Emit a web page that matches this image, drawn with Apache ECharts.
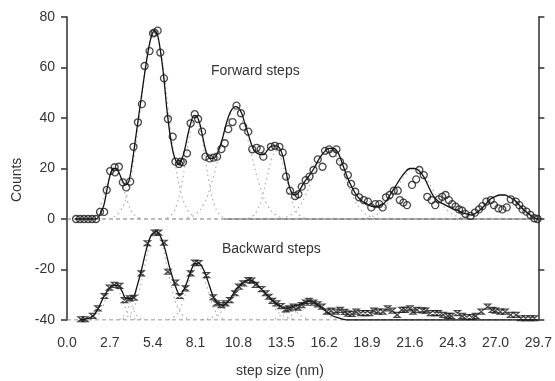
<!DOCTYPE html>
<html><head><meta charset="utf-8">
<script src="https://cdn.jsdelivr.net/npm/echarts@6/dist/echarts.min.js"></script>
<style>html,body{margin:0;padding:0;background:#fff}#c{width:555px;height:381px}</style>
</head><body><div id="c"></div>
<script>
// ---- tick labels ----
const xTicks = [0, 2.7, 5.4, 8.1, 10.8, 13.5, 16.2, 18.9, 21.6, 24.3, 27.0, 29.7];
const yTicks = [-40, -20, 0, 20, 40, 60, 80];

// ---- forward steps: measured counts (circles) ----
const forwardData = [[0.57,0],[0.82,0],[1.07,0],[1.33,0],[1.58,0],[1.83,0],[2.08,2.8],[2.34,2.8],[2.5,11.5],[2.72,19],[3.0,20.5],[3.03,18.5],[3.27,20.7],[3.52,14.5],[3.73,12.5],[3.98,14.8],[4.19,28.6],[4.47,38.3],[4.72,45.5],[4.89,60.6],[5.2,66.5],[5.42,73.5],[5.52,73.8],[5.71,74.6],[5.88,65.9],[6.11,55.7],[6.36,39.6],[6.66,32.6],[6.83,22.7],[7.06,21.8],[7.16,22.7],[7.31,22.5],[7.56,26],[7.79,37.9],[8.05,41.5],[8.26,39.6],[8.51,34.6],[8.72,24.7],[8.98,24],[9.23,24.3],[9.46,24.7],[9.73,27.7],[9.94,30],[10.16,35.6],[10.43,38.4],[10.68,44.9],[10.96,41.9],[11.1,36.6],[11.42,34.6],[11.67,27.6],[11.95,28.2],[12.2,27.6],[12.37,24.7],[12.85,28.6],[13.1,29],[13.38,28.6],[13.59,26.3],[13.8,16.8],[14.05,11.2],[14.37,9.1],[14.58,9.8],[14.79,12.8],[15.04,15.4],[15.28,16.8],[15.53,19.4],[15.8,23.6],[16.1,20.7],[16.26,27],[16.52,27.6],[16.75,26],[16.98,27.6],[17.2,22.7],[17.43,20.7],[17.7,17.4],[17.9,13.9],[18.16,10.8],[18.4,8.6],[18.7,7.5],[18.96,6.9],[19.17,4.6],[19.42,5.9],[19.68,5.9],[19.89,4.6],[20.1,8.6],[20.33,9.5],[20.59,11.2],[20.84,11.2],[20.97,7.5],[21.2,6.5],[21.42,5.5],[21.74,13.5],[22.0,15.7],[22.2,19.4],[22.48,17.4],[22.7,8.8],[22.97,7.5],[23.2,5.5],[23.43,7.8],[23.64,8.8],[23.85,9.5],[24.06,7.5],[24.27,5.9],[24.48,4.9],[24.7,3.8],[24.9,3.3],[25.1,2.0],[25.43,1.2],[25.7,2.5],[25.96,3.8],[26.17,5.1],[26.42,6.9],[26.7,7.5],[26.9,5.5],[27.18,4.2],[27.43,3.8],[27.7,4.6],[27.96,7.8],[28.28,6.9],[28.5,5.5],[28.7,3.8],[28.95,2.9],[29.2,1.6],[29.44,0.3],[29.65,0]];

// ---- forward steps: fitted curve (solid line) ----
const forwardFit = [[0.5,0],[1.8,0],[2.0,1],[2.3,5],[2.5,11],[2.7,17],[2.9,20],[3.1,20],[3.3,18],[3.5,15],[3.7,13.5],[3.9,15],[4.1,22],[4.3,31],[4.5,40],[4.7,49],[4.9,58],[5.1,66],[5.3,72],[5.5,74.5],[5.7,73],[5.9,66],[6.1,56],[6.3,43],[6.5,33],[6.7,26],[6.9,22.5],[7.05,21.5],[7.2,23],[7.4,27],[7.6,33],[7.8,38],[8.0,41],[8.2,40.5],[8.4,37],[8.6,31],[8.8,26],[9.0,24],[9.2,24],[9.4,25],[9.6,28],[9.8,32],[10.0,37],[10.2,41],[10.4,43.5],[10.6,44.5],[10.8,44],[11.0,42],[11.2,38],[11.4,34],[11.6,30],[11.8,27],[12.0,26],[12.2,25.5],[12.4,25.5],[12.6,27],[12.8,28.5],[13.0,29],[13.2,29],[13.4,28],[13.6,25],[13.8,19],[14.0,13],[14.2,10],[14.4,9.5],[14.6,10.5],[14.8,13],[15.0,15],[15.3,17.5],[15.6,20.5],[15.9,24],[16.2,26.5],[16.5,28],[16.8,28],[17.1,26],[17.4,21],[17.7,16],[18.0,12],[18.3,9],[18.6,7],[18.9,6],[19.2,5],[19.5,5],[19.8,5.5],[20.1,7],[20.4,10],[20.7,13],[21.0,16],[21.3,18.5],[21.6,20],[21.9,20],[22.2,19],[22.5,16.5],[22.8,12.5],[23.1,9],[23.4,7],[23.7,6],[24.0,5],[24.3,4],[24.6,3.5],[24.9,2.5],[25.2,2],[25.5,1.5],[25.8,2.5],[26.1,4],[26.4,6],[26.7,8],[27.0,9],[27.3,9.5],[27.6,9.5],[27.9,8.5],[28.2,7.5],[28.5,5.5],[28.8,3.5],[29.1,2],[29.4,0.5],[29.7,0]];

// ---- forward steps: individual peak components (dotted) ----
const fwdPeak1 = [[1.35,0.2],[1.63,0.9],[1.9,2.7],[2.18,6.5],[2.45,12.1],[2.73,17.6],[3.0,20],[3.28,17.6],[3.55,12.1],[3.83,6.5],[4.1,2.7],[4.38,0.9],[4.65,0.2]];
const fwdPeak2 = [[2.95,0.8],[3.375,3.3],[3.8,10],[4.225,24],[4.65,45],[5.075,65.3],[5.5,74],[5.925,65.3],[6.35,45],[6.775,24],[7.2,10],[7.625,3.3],[8.05,0.8]];
const fwdPeak3 = [[6.3,0.44],[6.6,1.8],[6.9,5.4],[7.2,13],[7.5,24.3],[7.8,35.3],[8.1,40],[8.4,35.3],[8.7,24.3],[9.0,13],[9.3,5.4],[9.6,1.8],[9.9,0.44]];
const fwdPeak4 = [[7.6,0.48],[8.1,1.9],[8.6,5.8],[9.1,14],[9.6,26.1],[10.1,37.9],[10.6,43],[11.1,37.9],[11.6,26.1],[12.1,14],[12.6,5.8],[13.1,1.9],[13.6,0.48]];
const fwdPeak5 = [[11.4,0.3],[11.7,1.2],[12.0,3.65],[12.3,8.8],[12.6,16.4],[12.9,23.8],[13.2,27],[13.5,23.8],[13.8,16.4],[14.1,8.8],[14.4,3.65],[14.7,1.2],[15.0,0.3]];
const fwdPeak6 = [[13.5,0.31],[14.0,1.23],[14.5,3.8],[15.0,9.1],[15.5,17],[16.0,24.7],[16.5,28],[17.0,24.7],[17.5,17],[18.0,9.1],[18.5,3.8],[19.0,1.23],[19.5,0.31]];
const fwdPeak7 = [[18.6,0.22],[19.15,0.88],[19.7,2.7],[20.25,6.5],[20.8,12.1],[21.35,17.65],[21.9,20],[22.45,17.65],[23.0,12.1],[23.55,6.5],[24.1,2.7],[24.65,0.88],[25.2,0.22]];
const fwdPeak8 = [[24.4,0.1],[24.9,0.42],[25.4,1.3],[25.9,3.1],[26.4,5.8],[26.9,8.4],[27.4,9.5],[27.9,8.4],[28.4,5.8],[28.9,3.1],[29.4,1.3],[29.7,0.6]];

// ---- backward steps (plotted offset to baseline -40): measured counts (x marks) ----
const backwardData = [[0.88,-39.7],[1.14,-39.7],[1.62,-38.4],[1.94,-35.4],[2.36,-30.5],[2.67,-27.2],[2.99,-26.1],[3.31,-26.5],[3.62,-32.1],[3.94,-31.4],[4.21,-31.2],[4.68,-21.5],[5.06,-9.6],[5.52,-5.4],[5.77,-5.4],[6.11,-9.4],[6.36,-20.9],[6.83,-25.2],[7.1,-30.5],[7.46,-27.5],[7.79,-21.5],[8.05,-17.3],[8.3,-17.5],[8.79,-22.2],[9.21,-31],[9.42,-33.4],[9.73,-34.1],[9.99,-33.4],[10.26,-32.1],[10.58,-29.4],[10.83,-26.8],[11.1,-25.5],[11.42,-24.2],[11.63,-24.4],[11.88,-26.1],[12.26,-27.8],[12.52,-29.4],[12.72,-30.8],[12.94,-32.4],[13.21,-33.4],[13.48,-34.5],[13.78,-35.8],[13.99,-35.4],[14.27,-34.7],[14.54,-35.1],[14.79,-34.1],[15.04,-33.1],[15.25,-32.4],[15.53,-33.1],[15.8,-33.8],[16.06,-34.7],[16.37,-36.7],[16.64,-36.3],[16.94,-36.7],[17.21,-36.0],[17.5,-36.8],[17.7,-37.5],[17.95,-37.6],[18.22,-36.7],[18.52,-37.3],[18.79,-37.3],[19.07,-37.3],[19.34,-36.3],[19.6,-36.7],[19.9,-36.7],[20.2,-35.4],[20.5,-36.3],[20.8,-38],[21.1,-36],[21.3,-36],[21.6,-35.4],[21.8,-36.7],[22.05,-36],[22.4,-36.2],[22.6,-36.3],[22.9,-37.3],[23.2,-37.3],[23.4,-37.3],[23.7,-38],[24.0,-38.4],[24.2,-38.4],[24.6,-37.3],[24.9,-38.4],[25.2,-38.8],[25.5,-38.8],[25.75,-38.4],[26.1,-36.7],[26.5,-34.7],[26.8,-36],[27.0,-36.3],[27.3,-36.7],[27.6,-36.7],[27.95,-38],[28.3,-38],[28.6,-39.3],[28.9,-39.3],[29.2,-39.3],[29.45,-39.3]];

// ---- backward steps: fitted curve ----
const backwardFit = [[0.8,-40],[1.3,-39.5],[1.7,-38],[2.0,-35],[2.3,-31],[2.6,-28],[2.9,-26.3],[3.2,-26.3],[3.5,-29],[3.7,-31.5],[4.0,-31.5],[4.2,-31],[4.4,-27],[4.7,-20],[5.0,-12],[5.3,-6.5],[5.6,-5],[5.9,-7],[6.2,-12.5],[6.5,-20],[6.8,-26],[7.1,-30],[7.4,-27.5],[7.7,-22.5],[8.0,-18],[8.3,-17.5],[8.6,-20],[8.9,-25],[9.2,-30.5],[9.5,-33.5],[9.8,-34.2],[10.1,-33],[10.4,-30.5],[10.7,-27.5],[11.0,-25.5],[11.3,-24.3],[11.6,-24.2],[11.9,-25.3],[12.2,-27.5],[12.5,-29.5],[12.8,-31.5],[13.1,-33.2],[13.4,-34.5],[13.7,-35.3],[14.0,-35.2],[14.3,-34.5],[14.6,-34],[14.9,-33.2],[15.2,-32.5],[15.5,-32.8],[15.8,-34],[16.1,-35.5],[16.4,-37],[16.7,-38.2],[17.0,-39],[17.3,-39.6],[17.6,-40],[29.7,-40]];

// ---- backward steps: individual peak components ----
const bwdPeak1 = [[1.45,-39.85],[1.7,-39.4],[1.95,-38.1],[2.2,-35.5],[2.45,-31.5],[2.7,-27.6],[2.95,-26],[3.2,-27.6],[3.45,-31.5],[3.7,-35.5],[3.95,-38.1],[4.2,-39.4],[4.45,-39.85]];
const bwdPeak2 = [[3.3,-39.8],[3.475,-39.05],[3.65,-37.7],[3.825,-35.8],[4.0,-33],[4.175,-35.8],[4.35,-37.7],[4.525,-39.05],[4.7,-39.8]];
const bwdPeak3 = [[3.5,-39.6],[3.85,-38.5],[4.2,-35.3],[4.55,-28.6],[4.9,-18.8],[5.25,-9.1],[5.6,-5],[5.95,-9.1],[6.3,-18.8],[6.65,-28.6],[7.0,-35.3],[7.35,-38.5],[7.7,-39.6]];
const bwdPeak4 = [[6.4,-39.76],[6.7,-39],[7.0,-37],[7.3,-32.9],[7.6,-26.7],[7.9,-20.6],[8.2,-18],[8.5,-20.6],[8.8,-26.7],[9.1,-32.9],[9.4,-37],[9.7,-39],[10.0,-39.76]];
const bwdPeak5 = [[8.5,-39.8],[9.0,-39.3],[9.5,-37.8],[10.0,-34.8],[10.5,-30.3],[11.0,-25.9],[11.5,-24],[12.0,-25.9],[12.5,-30.3],[13.0,-34.8],[13.5,-37.8],[14.0,-39.3],[14.5,-39.8]];
const bwdPeak6 = [[13.1,-39.5],[13.35,-38.7],[13.6,-37.6],[13.85,-36.5],[14.1,-36],[14.35,-36.5],[14.6,-37.6],[14.85,-38.7],[15.1,-39.5]];
const bwdPeak7 = [[13.55,-39.67],[13.9,-39],[14.25,-37.6],[14.6,-35.5],[14.95,-33.4],[15.3,-32.5],[15.65,-33.4],[16.0,-35.5],[16.35,-37.6],[16.7,-39],[17.05,-39.67]];

// ---- baselines ----
const forwardBaseline = [[0,0],[29.7,0]];
const backwardBaseline = [[0,-40],[29.7,-40]];
const zeroSolid = [[9.9,0],[29.7,0]];

const AX = '#3a3a3a';
const FONT = 'Liberation Sans, Arial, sans-serif';
const chart = echarts.init(document.getElementById('c'), null, {renderer: 'canvas'});

const dotted = (d) => ({type:'line', data:d, smooth:true, symbol:'none', silent:true, z:1,
  lineStyle:{color:'#b4b4b4', width:1.3, type:[1.5,3.5]}});
const peaksF = [fwdPeak1,fwdPeak2,fwdPeak3,fwdPeak4,fwdPeak5,fwdPeak6,fwdPeak7,fwdPeak8];
const peaksB = [bwdPeak1,bwdPeak2,bwdPeak3,bwdPeak4,bwdPeak5,bwdPeak6,bwdPeak7];

const series = [];
peaksF.forEach(p => series.push(dotted(p)));
peaksB.forEach(p => series.push(dotted(p)));
series.push({type:'line', data:forwardBaseline, symbol:'none', silent:true, z:1, lineStyle:{color:'#7a7a7a', width:1.2, type:[4,3]}});
series.push({type:'line', data:backwardBaseline, symbol:'none', silent:true, z:1, lineStyle:{color:'#7a7a7a', width:1.2, type:[4,3]}});
series.push({type:'line', data:zeroSolid, symbol:'none', silent:true, z:2, lineStyle:{color:'#666', width:1.2}});
series.push({type:'line', data:forwardFit, smooth:0.3, symbol:'none', z:3, lineStyle:{color:'#111', width:1.3}});
series.push({type:'line', data:backwardFit, smooth:0.3, symbol:'none', z:3, lineStyle:{color:'#111', width:1.3}});
series.push({type:'scatter', data:forwardData, symbol:'circle', symbolSize:7, z:4,
  itemStyle:{color:'rgba(255,255,255,0)', borderColor:'#1a1a1a', borderWidth:1.3}});
series.push({type:'scatter', data:backwardData, symbol:'path://M0,0L10,0L0,10L10,10Z', symbolSize:[6,5], z:4,
  itemStyle:{color:'rgba(255,255,255,0)', borderColor:'#1a1a1a', borderWidth:1.3}});

chart.setOption({
  animation:false,
  backgroundColor:'#fff',
  grid:{left:67, right:16, top:17, bottom:61},
  xAxis:{type:'value', min:xTicks[0], max:xTicks[xTicks.length-1], interval:2.7,
    axisLine:{show:false}, axisTick:{show:false}, splitLine:{show:false},
    axisLabel:{color:'#333', fontSize:14, fontFamily:FONT, margin:16,
      formatter:v => (Math.round(v*10)/10).toFixed(1)}},
  yAxis:[
    {type:'value', min:yTicks[0], max:yTicks[yTicks.length-1], interval:20, position:'left',
     axisLine:{show:true, lineStyle:{color:AX, width:1.6}},
     axisTick:{show:true, length:6, lineStyle:{color:AX, width:1.6}},
     splitLine:{show:false},
     axisLabel:{color:'#333', fontSize:14, fontFamily:FONT, margin:12}},
    {type:'value', min:yTicks[0], max:yTicks[yTicks.length-1], interval:20, position:'right',
     axisLine:{show:true, lineStyle:{color:AX, width:1.6}},
     axisTick:{show:true, length:6, lineStyle:{color:AX, width:1.6}},
     splitLine:{show:false}, axisLabel:{show:false}}
  ],
  graphic:[
    {type:'text', left:211, top:64, style:{text:'Forward steps', font:'14px '+FONT, fill:'#333'}},
    {type:'text', left:222, top:242, style:{text:'Backward steps', font:'14px '+FONT, fill:'#333'}},
    {type:'text', left:236, top:364, style:{text:'step size (nm)', font:'14px '+FONT, fill:'#333'}},
    {type:'text', x:10, y:202, rotation:Math.PI/2, style:{text:'Counts', font:'14px '+FONT, fill:'#333'}}
  ],
  series: series
});
</script></body></html>
